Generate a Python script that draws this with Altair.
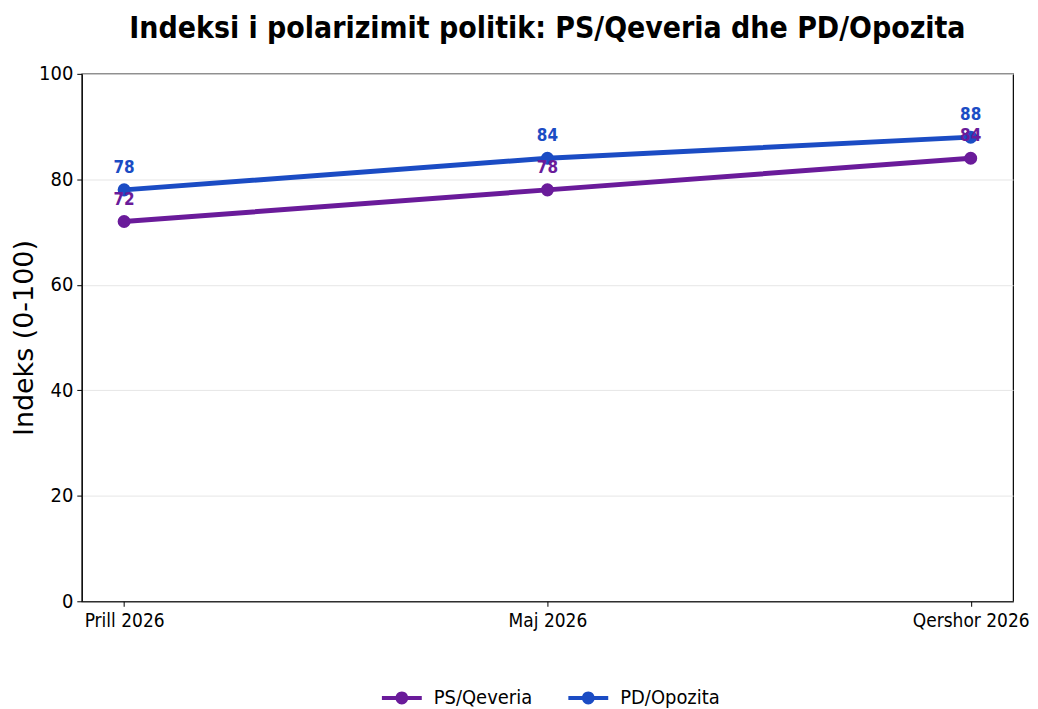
import altair as alt
import pandas as pd

months = ["Prill 2026", "Maj 2026", "Qershor 2026"]
series_names = ["PS/Qeveria", "PD/Opozita"]
ps_values = [72, 78, 84]
pd_values = [78, 84, 88]
colors = ["#6a1b9a", "#1b4cc4"]
y_ticks = [0, 20, 40, 60, 80, 100]

rows = []
for m, v in zip(months, ps_values):
    rows.append({"Muaji": m, "Seria": series_names[0], "Vlera": v})
for m, v in zip(months, pd_values):
    rows.append({"Muaji": m, "Seria": series_names[1], "Vlera": v})
df = pd.DataFrame(rows)

FONT = "DejaVu Sans Condensed, Liberation Sans Narrow, DejaVu Sans"

x_enc = alt.X("Muaji:N", sort=months, scale=alt.Scale(type="point", padding=0.1),
              axis=alt.Axis(title=None, labelAngle=0, labelFontSize=19, labelFont=FONT,
                            labelColor="#000", tickColor="#000", domainColor="#000",
                            tickSize=5, labelPadding=5, grid=False))
y_enc = alt.Y("Vlera:Q", scale=alt.Scale(domain=[0, 100], nice=False),
              axis=alt.Axis(title="Indeks (0-100)", values=y_ticks, titleFont="DejaVu Sans",
                            titleFontSize=27, titleFontWeight="normal", titleColor="#000",
                            titlePadding=0, labelFontSize=20, labelFont=FONT, labelColor="#000",
                            tickColor="#000", domainColor="#000", tickSize=5, labelPadding=4,
                            grid=True, gridColor="#e6e6e6", gridWidth=1))
color_scale = alt.Scale(domain=series_names, range=colors)

legend_path = ("M-1,-0.1 H1 V0.1 H-1 Z "
               "M-0.32,0 A0.32,0.32 0 1,1 0.32,0 A0.32,0.32 0 1,1 -0.32,0 Z")
legend = alt.Legend(title=None, orient="none", direction="horizontal",
                    legendX=301, legendY=606,
                    symbolType=legend_path, symbolSize=1600,
                    symbolStrokeWidth=0, symbolOpacity=1, labelFontSize=20, labelFont=FONT,
                    labelColor="#000", columnPadding=36, labelOffset=12)
color_enc = alt.Color("Seria:N", scale=color_scale, sort=series_names, legend=legend)

base = alt.Chart(df)

lines = base.mark_line(strokeWidth=5).encode(
    x=x_enc, y=y_enc, color=color_enc, detail="Seria:N",
)
points = base.mark_point(filled=True, size=170, opacity=1).encode(
    x=x_enc, y=y_enc, color=color_enc,
)
labels = base.mark_text(dy=-22, fontSize=17, fontWeight="bold", font=FONT).encode(
    x=x_enc, y=y_enc,
    text=alt.Text("Vlera:Q"),
    color=color_enc,
)

chart = alt.layer(lines, points, labels).properties(
    width=934, height=529,
    background="white",
    padding={"left": 2, "top": 5, "right": 0, "bottom": 0},
    title=alt.Title("Indeksi i polarizimit politik: PS/Qeveria dhe PD/Opozita",
                    fontSize=30, fontWeight="bold", font=FONT, color="#000",
                    anchor="middle", offset=20),
).configure_view(stroke="#000", strokeWidth=1.2)

chart.save("out.html", embed_options={"renderer": "svg", "actions": False})
